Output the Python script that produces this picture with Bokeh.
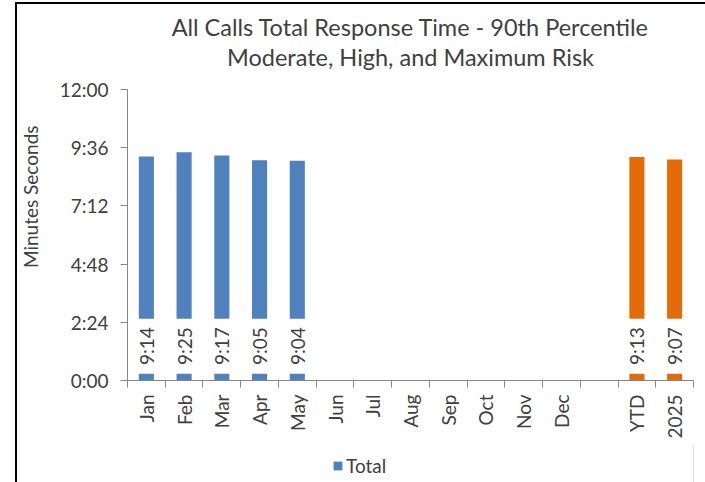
import math
from bokeh.plotting import figure
from bokeh.layouts import column
from bokeh.models import (FixedTicker, Legend, LegendItem, Title, ColumnDataSource,
                          InlineStyleSheet)
from bokeh.core.properties import value
from bokeh.embed import file_html
from bokeh.resources import INLINE

# ---- data ----
categories = ["Jan", "Feb", "Mar", "Apr", "May", "Jun", "Jul", "Aug", "Sep",
              "Oct", "Nov", "Dec", "", "YTD", "2025"]
month_labels = ["Jan", "Feb", "Mar", "Apr", "May"]
month_values = ["9:14", "9:25", "9:17", "9:05", "9:04"]
summary_labels = ["YTD", "2025"]
summary_values = ["9:13", "9:07"]
y_tick_seconds = [0, 144, 288, 432, 576, 720]
title_lines = ["All Calls Total Response Time - 90th Percentile",
               "Moderate, High, and Maximum Risk"]
y_axis_title = "Minutes Seconds"
legend_label = "Total"


def to_sec(s):
    m, ss = s.split(":")
    return int(m) * 60 + int(ss)


def fmt(t):
    t = int(t)
    return f"{t // 60}:{t % 60:02d}"


FONT = "Lato"
TXT = "#404040"
AX = "#868686"
BLUE = "#4F81BD"
ORANGE = "#E36C09"

n = len(categories)
p = figure(width=705, height=445, x_range=(-0.5, n - 0.5), y_range=(0, 720),
           output_backend="svg", toolbar_location=None,
           min_border_left=127, min_border_right=12, min_border_top=89,
           min_border_bottom=65)
p.outline_line_color = None
p.xgrid.visible = False
p.ygrid.visible = False
p.background_fill_color = "white"
p.border_fill_color = "white"

bar_w = 0.4
label_y = 85
box_bottom, box_top = 17, 153

src_m = ColumnDataSource(dict(
    x=[categories.index(c) for c in month_labels],
    top=[to_sec(v) for v in month_values],
    text=month_values))
src_s = ColumnDataSource(dict(
    x=[categories.index(c) for c in summary_labels],
    top=[to_sec(v) for v in summary_values],
    text=summary_values))

blue = p.vbar(x="x", top="top", width=bar_w, source=src_m, fill_color=BLUE, line_color=None)
orange = p.vbar(x="x", top="top", width=bar_w, source=src_s, fill_color=ORANGE, line_color=None)

for src in (src_m, src_s):
    p.vbar(x="x", bottom=box_bottom, top=box_top, width=bar_w + 0.1, source=src,
           fill_color="white", line_color=None)
    p.text(x="x", y=label_y, text="text", source=src, angle=math.pi / 2,
           text_align="center", text_baseline="middle",
           text_font=value(FONT), text_font_size="19px", text_color=TXT)

# y axis
ya = p.yaxis[0]
ya.ticker = FixedTicker(ticks=y_tick_seconds)
ya.major_label_overrides = {t: fmt(t) for t in y_tick_seconds}
ya.axis_line_color = AX
ya.major_tick_line_color = AX
ya.major_tick_out = 7
ya.major_tick_in = 0
ya.minor_tick_line_color = None
ya.major_label_text_font = FONT
ya.major_label_text_font_size = "19px"
ya.major_label_text_color = TXT
ya.major_label_standoff = 12

# x axis
xa = p.xaxis[0]
xa.ticker = FixedTicker(ticks=list(range(n)), minor_ticks=[i - 0.5 for i in range(n + 1)])
xa.major_label_overrides = {i: c for i, c in enumerate(categories)}
xa.major_label_orientation = math.pi / 2
xa.axis_line_color = AX
xa.major_tick_line_color = None
xa.major_tick_out = 0
xa.major_tick_in = 0
xa.minor_tick_line_color = AX
xa.minor_tick_out = 7
xa.minor_tick_in = 0
xa.major_label_text_font = FONT
xa.major_label_text_font_size = "19px"
xa.major_label_text_color = TXT
xa.major_label_standoff = 7

# titles: first "above" item sits nearest the plot, p.title is outermost
p.add_layout(Title(text=" ", align="center", text_font=FONT,
                   text_font_size="10px", standoff=5), "above")
p.add_layout(Title(text=title_lines[1], align="center", text_font=FONT,
                   text_font_size="23.5px", text_font_style="normal",
                   text_color=TXT, standoff=0), "above")
p.title.text = title_lines[0]
p.title.align = "center"
p.title.text_font = FONT
p.title.text_font_size = "23.5px"
p.title.text_font_style = "normal"
p.title.text_color = TXT
p.title.standoff = 0

# vertical axis title, placed toward the upper part of the axis
p.add_layout(Title(text=y_axis_title, align="right", offset=36, text_font=FONT,
                   text_font_size="19px", text_font_style="normal",
                   text_color=TXT, standoff=30), "left")

# ---- legend strip under the chart (its frame lines up with the chart's) ----
lg = figure(width=705, height=37, x_range=(0, 1), y_range=(0, 1),
            output_backend="svg", toolbar_location=None,
            x_axis_location=None, y_axis_location=None,
            min_border_left=0, min_border_right=0, min_border_top=0,
            min_border_bottom=0)
lg.outline_line_color = None
lg.xgrid.visible = False
lg.ygrid.visible = False
lg.background_fill_color = "white"
lg.border_fill_color = "white"
# legend-only renderer: its one bar lies far outside this strip's 0..1 ranges
swatch_src = ColumnDataSource(dict(x=src_m.data["top"][:1], top=src_m.data["top"][:1]))
swatch = lg.vbar(x="x", top="top", width=bar_w, source=swatch_src,
                 fill_color=BLUE, line_color=None)
legend = Legend(items=[LegendItem(label=legend_label, renderers=[swatch])],
                location=(205, 5), orientation="horizontal",
                glyph_width=11, glyph_height=11, label_standoff=3,
                label_height=20, padding=0, margin=0,
                border_line_color=None, background_fill_alpha=0,
                label_text_font=FONT, label_text_font_size="19px",
                label_text_color=TXT)
lg.add_layout(legend, "center")

layout = column(p, lg, spacing=0)
# outer frame lines of the chart box
layout.stylesheets = [InlineStyleSheet(css=(
    ":host::before { content: ''; position: absolute; left: 15px; top: 2px; "
    "width: 2px; height: 480px; background: black; z-index: 10; }"
    ":host::after { content: ''; position: absolute; left: 15px; top: 2px; "
    "width: 690px; height: 2px; background: black; z-index: 10; }"))]

open("out.html", "w").write(file_html(layout, INLINE))
